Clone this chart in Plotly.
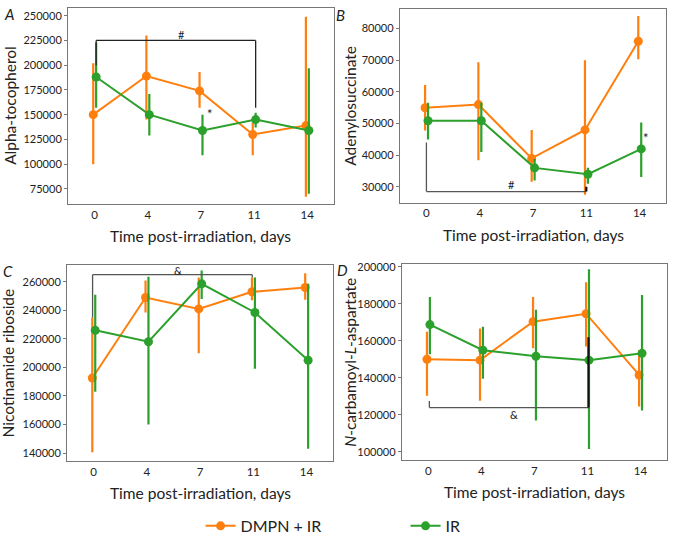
import plotly.graph_objects as go

days = ["0", "4", "7", "11", "14"]
series_names = ["DMPN + IR", "IR"]
colors = ["#ff7f0e", "#2ca02c"]

# Panel A: Alpha-tocopherol
a_dmpn = [150000, 189000, 174000, 130000, 139000]
a_dmpn_hi = [202000, 230000, 193000, 142000, 249000]
a_dmpn_lo = [100000, 145000, 157000, 109000, 67000]
a_ir = [188000, 150000, 134000, 145000, 134000]
a_ir_hi = [223000, 171000, 150000, 152000, 197000]
a_ir_lo = [157000, 129000, 109000, 137000, 70000]

# Panel B: Adenylosuccinate
b_dmpn = [55000, 56000, 39000, 48000, 76000]
b_dmpn_hi = [62200, 69400, 48000, 70000, 84000]
b_dmpn_lo = [47800, 38400, 31600, 27500, 70300]
b_ir = [50900, 50900, 36000, 34000, 42000]
b_ir_hi = [56600, 56600, 38800, 36000, 50300]
b_ir_lo = [45000, 41000, 32000, 31000, 33100]

# Panel C: Nicotinamide riboside
c_dmpn = [192600, 249000, 241000, 253000, 256000]
c_dmpn_hi = [235000, 261000, 263000, 263000, 266000]
c_dmpn_lo = [140500, 238500, 210000, 247000, 247500]
c_ir = [226000, 218000, 258600, 238500, 205000]
c_ir_hi = [251000, 263500, 268000, 263000, 258600]
c_ir_lo = [183000, 160000, 248000, 199000, 143000]

# Panel D: N-carbamoyl-L-aspartate
d_dmpn = [150100, 149600, 170400, 174700, 141600]
d_dmpn_hi = [165000, 166700, 183700, 191700, 155000]
d_dmpn_lo = [130400, 127700, 156000, 157000, 124500]
d_ir = [168800, 155000, 151700, 149600, 153300]
d_ir_hi = [183700, 167700, 176800, 198700, 184800]
d_ir_lo = [152800, 139500, 117000, 101600, 122400]

panels = [
    dict(key="A", title="Alpha-tocopherol", data=[(a_dmpn, a_dmpn_hi, a_dmpn_lo), (a_ir, a_ir_hi, a_ir_lo)],
         yrange=[60000, 258000], tickvals=[75000, 100000, 125000, 150000, 175000, 200000, 225000, 250000],
         dom_x=[0.101, 0.496], dom_y=[0.628, 0.993], toff=0.086),
    dict(key="B", title="Adenylosuccinate", data=[(b_dmpn, b_dmpn_hi, b_dmpn_lo), (b_ir, b_ir_hi, b_ir_lo)],
         yrange=[25000, 86250], tickvals=[30000, 40000, 50000, 60000, 70000, 80000],
         dom_x=[0.594, 0.990], dom_y=[0.630, 0.991], toff=0.074),
    dict(key="C", title="Nicotinamide riboside", data=[(c_dmpn, c_dmpn_hi, c_dmpn_lo), (c_ir, c_ir_hi, c_ir_lo)],
         yrange=[134400, 271800], tickvals=[140000, 160000, 180000, 200000, 220000, 240000, 260000],
         dom_x=[0.0996, 0.495], dom_y=[0.149, 0.514], toff=0.087),
    dict(key="D", title="<i>N</i>-carbamoyl-<i>L</i>-aspartate", data=[(d_dmpn, d_dmpn_hi, d_dmpn_lo), (d_ir, d_ir_hi, d_ir_lo)],
         yrange=[95700, 201600], tickvals=[100000, 120000, 140000, 160000, 180000, 200000],
         dom_x=[0.597, 0.991], dom_y=[0.151, 0.516], toff=0.077),
]

FONT = "Lato, 'Open Sans', sans-serif"
fig = go.Figure()
layout = dict(
    width=673, height=543, margin=dict(l=0, r=0, t=0, b=0),
    paper_bgcolor="white", plot_bgcolor="white",
    font=dict(family=FONT, color="#222"),
    showlegend=True,
)
annotations = []
shapes = []
dodge = [-0.025, 0.03]
xpos = list(range(len(days)))

for i, p in enumerate(panels):
    n = "" if i == 0 else str(i + 1)
    xa, ya = "x" + n, "y" + n
    for s, (mean, hi, lo) in enumerate(p["data"]):
        fig.add_trace(go.Scatter(
            x=[x + dodge[s] for x in xpos], y=mean, xaxis=xa, yaxis=ya,
            mode="lines+markers", name=series_names[s], legendgroup=series_names[s],
            showlegend=(i == 0),
            line=dict(color=colors[s], width=2), marker=dict(color=colors[s], size=9),
            error_y=dict(type="data", symmetric=False,
                         array=[h - m for h, m in zip(hi, mean)],
                         arrayminus=[m - l for m, l in zip(mean, lo)],
                         color=colors[s], thickness=2.2, width=0),
            cliponaxis=False,
        ))
    axis_common = dict(showline=True, linecolor="#777", linewidth=1, mirror=True,
                       showgrid=False, zeroline=False)
    layout["xaxis" + n] = dict(domain=p["dom_x"], anchor=ya, range=[-0.5, 4.5],
                               tickvals=xpos, ticktext=days, ticks="", ticklen=0,
                               tickfont=dict(size=11.5, color="#222"), **axis_common)
    layout["yaxis" + n] = dict(domain=p["dom_y"], anchor=xa, range=p["yrange"],
                               tickvals=p["tickvals"], ticktext=[str(v) for v in p["tickvals"]],
                               ticks="outside", ticklen=3, tickcolor="#777",
                               tickfont=dict(size=11, color="#222"), **axis_common)
    # axis titles
    x0, x1 = p["dom_x"]
    y0, y1 = p["dom_y"]
    annotations.append(dict(text="Time post-irradiation, days", xref="paper", yref="paper",
                            x=(x0 + x1) / 2, y=y0 - 0.06, showarrow=False,
                            font=dict(size=15.5, family=FONT, color="#222"), xanchor="center", yanchor="middle"))
    annotations.append(dict(text=p["title"], xref="paper", yref="paper",
                            x=x0 - p["toff"], y=(y0 + y1) / 2, textangle=-90, showarrow=False,
                            font=dict(size=15.5, family=FONT, color="#222"), xanchor="center", yanchor="middle"))
    annotations.append(dict(text="<i>" + p["key"] + "</i>", xref="paper", yref="paper",
                            x=x0 - 0.088, y=y1 - 0.012, showarrow=False,
                            font=dict(size=15, family=FONT, color="#222"), xanchor="center", yanchor="middle"))

# significance brackets
def bracket(n, xa, xb, ytop, yl, yr, label, ylab, color="#222", lw=1.3, legw=1.3):
    xr, yr_ = "x" + n, "y" + n
    shapes.append(dict(type="line", xref=xr, yref=yr_, x0=xa, x1=xb, y0=ytop, y1=ytop, line=dict(color=color, width=lw)))
    shapes.append(dict(type="line", xref=xr, yref=yr_, x0=xa, x1=xa, y0=ytop, y1=yl, line=dict(color=color, width=legw)))
    shapes.append(dict(type="line", xref=xr, yref=yr_, x0=xb, x1=xb, y0=ytop, y1=yr, line=dict(color=color, width=legw)))
    annotations.append(dict(text=label, xref=xr, yref=yr_, x=(xa + xb) / 2 + 0.1, y=ylab,
                            showarrow=False, font=dict(size=11, family=FONT, color="#222")))

bracket("", 0.03, 3.03, 225000, 200000, 157000, "#", 231000)
bracket("2", 0.0, 3.0, 28500, 44000, 30000, "#", 30800, color="#555")
bracket("3", -0.02, 2.98, 265000, 235000, 263000, "&", 268000, color="#555")
bracket("4", 0.02, 3.02, 124000, 127500, 162000, "&", 120500, color="#555")
shapes[-1]["line"] = dict(color="#111", width=2.2)
shapes[-7]["line"] = dict(color="#111", width=2.2)

# asterisks
annotations.append(dict(text="*", xref="x", yref="y", x=2.17, y=151000, showarrow=False,
                        font=dict(size=13, family=FONT, color="#222")))
annotations.append(dict(text="*", xref="x2", yref="y2", x=4.12, y=45500, showarrow=False,
                        font=dict(size=13, family=FONT, color="#222")))

layout["annotations"] = annotations
layout["shapes"] = shapes
layout["legend"] = dict(orientation="h", x=0.298, xanchor="left", y=0.028, yanchor="middle",
                        font=dict(size=16, family=FONT, color="#222"), entrywidth=160,
                        bgcolor="rgba(0,0,0,0)")
fig.update_layout(**layout)
fig.write_html("out.html")
